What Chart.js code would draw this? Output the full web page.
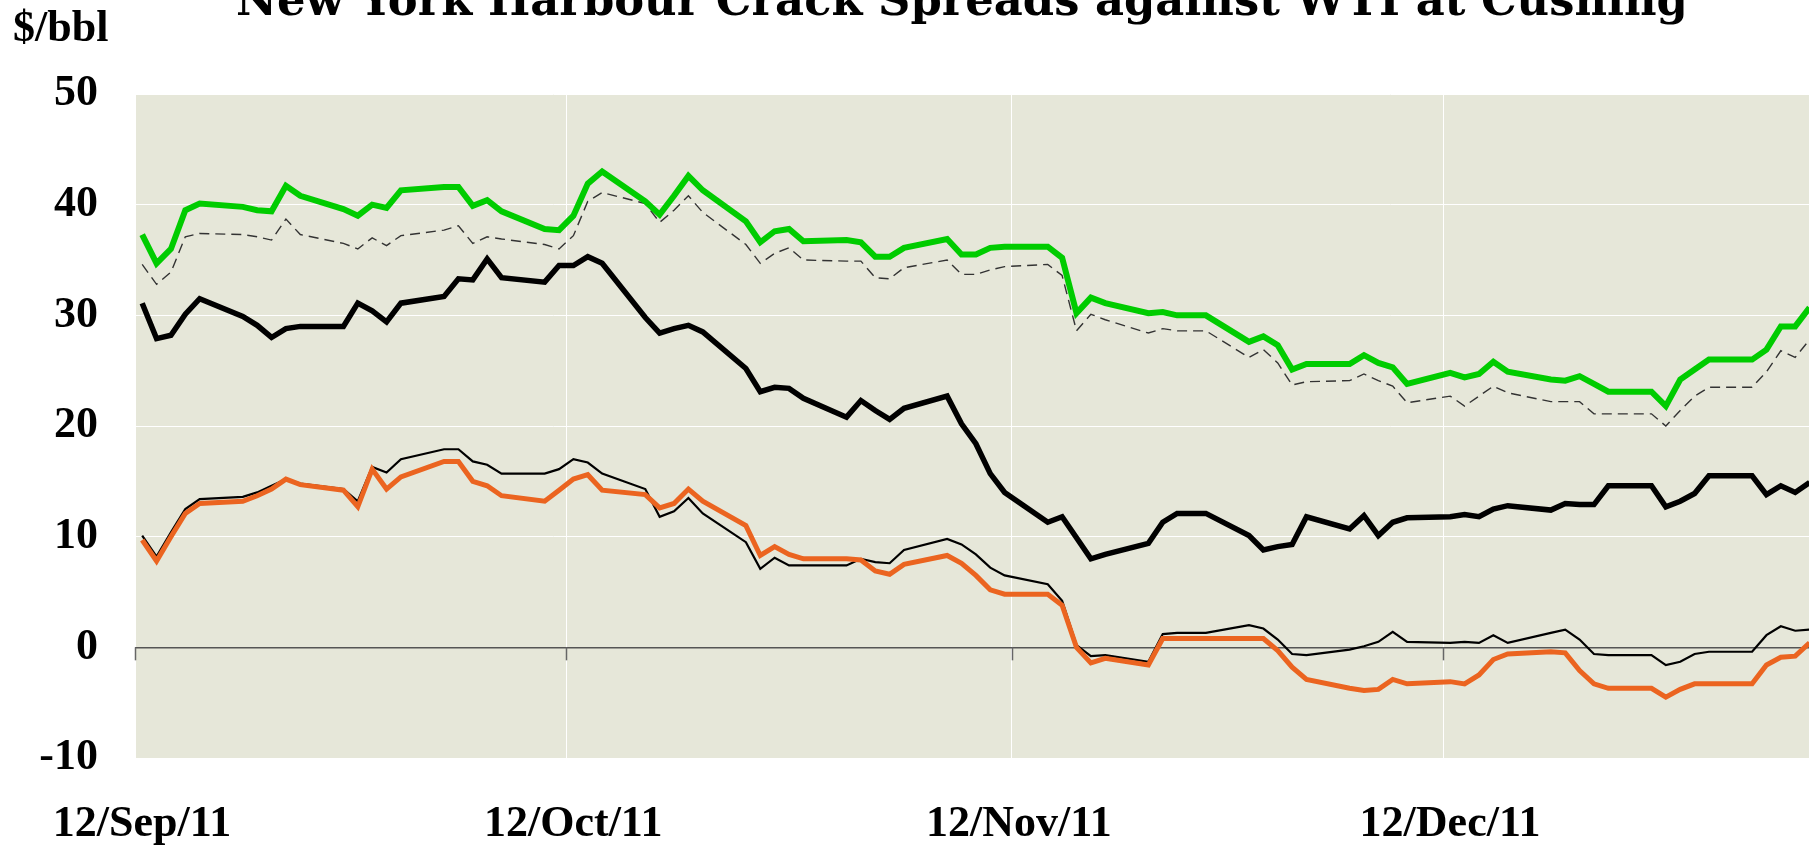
<!DOCTYPE html>
<html lang="en">
<head>
  <meta charset="UTF-8" />
  <title>New York Harbour Crack Spreads against WTI at Cushing</title>
  <script src="https://cdn.jsdelivr.net/npm/chart.js"></script>
  <style>
    html, body {
      margin: 0;
      padding: 0;
      background: #fff;
      overflow: hidden;
    }
    .wrap {
      width: 1809px;
      height: 845px;
    }
  </style>
</head>
<body>
  <div class="wrap"><canvas id="grafico"></canvas></div>

  <script>
    const titleText = "New York Harbour Crack Spreads against WTI at Cushing";
    const unitText = "$/bbl";

    // trading days shown on the chart
    const dates = [
      '2011-09-12','2011-09-13','2011-09-14','2011-09-15','2011-09-16',
      '2011-09-19','2011-09-20','2011-09-21','2011-09-22','2011-09-23',
      '2011-09-26','2011-09-27','2011-09-28','2011-09-29','2011-09-30',
      '2011-10-03','2011-10-04','2011-10-05','2011-10-06','2011-10-07',
      '2011-10-10','2011-10-11','2011-10-12','2011-10-13','2011-10-14',
      '2011-10-17','2011-10-18','2011-10-19','2011-10-20','2011-10-21',
      '2011-10-24','2011-10-25','2011-10-26','2011-10-27','2011-10-28',
      '2011-10-31','2011-11-01','2011-11-02','2011-11-03','2011-11-04',
      '2011-11-07','2011-11-08','2011-11-09','2011-11-10','2011-11-11',
      '2011-11-14','2011-11-15','2011-11-16','2011-11-17','2011-11-18',
      '2011-11-21','2011-11-22','2011-11-23','2011-11-24','2011-11-25',
      '2011-11-28','2011-11-29','2011-11-30','2011-12-01','2011-12-02',
      '2011-12-05','2011-12-06','2011-12-07','2011-12-08','2011-12-09',
      '2011-12-12','2011-12-13','2011-12-14','2011-12-15','2011-12-16',
      '2011-12-19','2011-12-20','2011-12-21','2011-12-22','2011-12-23',
      '2011-12-26','2011-12-27','2011-12-28','2011-12-29','2011-12-30',
      '2012-01-02','2012-01-03','2012-01-04','2012-01-05','2012-01-06'
    ];

    const spreadGreen = [
      37.3,34.7,36.0,39.5,40.1, 39.8,39.5,39.4,41.7,40.8, 39.6,39.0,40.0,39.7,41.3,
      41.6,41.6,39.9,40.4,39.4, 37.8,37.7,39.0,41.9,43.0, 40.3,39.1,40.8,42.6,41.3,
      38.5,36.6,37.6,37.8,36.7, 36.8,36.6,35.3,35.3,36.1, 36.9,35.5,35.5,36.1,36.2,
      36.2,35.2,30.2,31.6,31.1, 30.2,30.3,30.0,30.0,30.0, 27.6,28.1,27.3,25.1,25.6,
      25.6,26.4,25.7,25.3,23.8, 24.8,24.4,24.7,25.8,24.9, 24.2,24.1,24.5,23.8,23.1,
      23.1,21.8,24.2,25.1,26.0, 26.0,26.9,29.0,29.0,30.7
    ];

    const spreadDashed = [
      34.6,32.8,33.9,37.1,37.4, 37.3,37.1,36.8,38.7,37.3, 36.5,36.0,37.0,36.3,37.2,
      37.7,38.1,36.5,37.1,36.9, 36.4,36.0,37.2,40.3,41.1, 40.1,38.4,39.5,40.8,39.3,
      36.4,34.7,35.6,36.1,35.0, 34.9,34.9,33.4,33.3,34.3, 35.0,33.7,33.7,34.1,34.4,
      34.6,33.6,28.6,30.1,29.6, 28.4,28.8,28.6,28.6,28.6, 26.2,26.9,25.7,23.7,24.0,
      24.1,24.7,24.1,23.6,22.1, 22.7,21.8,22.7,23.6,23.0, 22.2,22.2,22.2,21.1,21.1,
      21.1,20.0,21.4,22.7,23.5, 23.5,24.9,26.8,26.2,27.8
    ];

    const spreadBlackThick = [
      31.1,27.9,28.2,30.1,31.5, 29.9,29.1,28.0,28.8,29.0, 29.0,31.1,30.4,29.4,31.1,
      31.7,33.3,33.2,35.1,33.4, 33.0,34.5,34.5,35.3,34.7, 29.8,28.4,28.8,29.1,28.5,
      25.2,23.1,23.5,23.4,22.5, 20.8,22.3,21.4,20.6,21.6, 22.7,20.2,18.4,15.7,14.0,
      11.3,11.8,9.9,8.0,8.4, 9.4,11.3,12.1,12.1,12.1, 10.1,8.8,9.1,9.3,11.8,
      10.7,11.9,10.1,11.3,11.7, 11.8,12.0,11.8,12.5,12.8, 12.4,13.0,12.9,12.9,14.6,
      14.6,12.7,13.2,13.9,15.5, 15.5,13.8,14.6,14.0,14.9
    ];

    const spreadBlackThin = [
      10.1,8.2,10.4,12.5,13.4, 13.6,14.0,14.6,15.2,14.8, 14.3,13.2,16.3,15.8,17.0,
      17.9,17.9,16.8,16.5,15.7, 15.7,16.1,17.0,16.7,15.7, 14.3,11.8,12.3,13.5,12.1,
      9.5,7.1,8.1,7.4,7.4, 7.4,8.0,7.7,7.6,8.8, 9.8,9.3,8.4,7.2,6.5,
      5.7,4.2,0.2,-0.8,-0.7, -1.3,1.2,1.3,1.3,1.3, 2.0,1.7,0.7,-0.6,-0.7,
      -0.2,0.1,0.5,1.4,0.5, 0.4,0.5,0.4,1.1,0.4, 1.3,1.6,0.7,-0.6,-0.7,
      -0.7,-1.6,-1.3,-0.6,-0.4, -0.4,1.1,1.9,1.5,1.6
    ];

    const spreadOrange = [
      9.7,7.8,10.0,12.1,13.0, 13.2,13.7,14.3,15.2,14.7, 14.2,12.7,16.1,14.3,15.4,
      16.8,16.8,15.0,14.6,13.7, 13.2,14.2,15.2,15.6,14.2, 13.8,12.6,13.0,14.3,13.2,
      11.0,8.3,9.1,8.4,8.0, 8.0,7.9,6.9,6.6,7.5, 8.3,7.6,6.5,5.2,4.8,
      4.8,3.8,0.0,-1.4,-1.0, -1.6,0.8,0.8,0.8,0.8, 0.8,0.8,-0.3,-1.8,-2.9,
      -3.7,-3.9,-3.8,-2.9,-3.3, -3.1,-3.3,-2.5,-1.1,-0.6, -0.4,-0.5,-2.1,-3.3,-3.7,
      -3.7,-4.5,-3.8,-3.3,-3.3, -3.3,-1.6,-0.9,-0.8,0.4
    ];

    const tickDates = ['2011-09-12', '2011-10-12', '2011-11-12', '2011-12-12'];
    const tickLabels = ['12/Sep/11', '12/Oct/11', '12/Nov/11', '12/Dec/11'];
    const yMin = -10, yMax = 50, yStep = 10;
    const xEnd = 116.46; // days after 12/Sep/11 at the right edge of the plot

    const start = Date.UTC(2011, 8, 12);
    const dayOf = s => (Date.parse(s) - start) / 86400000;
    // each trading day is plotted at midday
    const toPoints = vals => dates.map((d, i) => ({ x: dayOf(d) + 0.5, y: vals[i] }));
    const tickDays = tickDates.map(dayOf);

    const decor = {
      id: 'decor',
      beforeDraw(chart) {
        const { ctx, chartArea: a } = chart;
        ctx.save();
        ctx.fillStyle = '#e6e7d9';
        ctx.fillRect(a.left, a.top, a.right - a.left, a.bottom - a.top);
        ctx.restore();
      },
      beforeDatasetsDraw(chart) {
        // small tick marks hanging under the zero line
        const { ctx, scales } = chart;
        const y0 = scales.y.getPixelForValue(0);
        ctx.save();
        ctx.strokeStyle = '#666';
        ctx.lineWidth = 1.5;
        tickDays.forEach(d => {
          const x = Math.round(scales.x.getPixelForValue(d)) + 0.5;
          ctx.beginPath();
          ctx.moveTo(x, y0);
          ctx.lineTo(x, y0 + 13);
          ctx.stroke();
        });
        ctx.restore();
      },
      afterDraw(chart) {
        const { ctx } = chart;
        ctx.save();
        ctx.fillStyle = '#000';
        ctx.textBaseline = 'alphabetic';

        ctx.font = 'bold 48px "DejaVu Serif"';
        const size = 48 * 1452 / ctx.measureText(titleText).width;
        ctx.font = 'bold ' + size.toFixed(1) + 'px "DejaVu Serif"';
        ctx.textAlign = 'center';
        ctx.fillText(titleText, 962, 15);

        ctx.font = 'bold 44px "Liberation Serif"';
        ctx.textAlign = 'left';
        ctx.fillText(unitText, 13, 41);
        ctx.restore();
      }
    };

    const tickFont = { family: '"Liberation Serif"', size: 44, weight: 'bold' };

    new Chart(document.getElementById('grafico'), {
      type: 'line',
      data: {
        datasets: [
          { label: 'Green', data: toPoints(spreadGreen), borderColor: '#00cc00', borderWidth: 6 },
          { label: 'Black thick', data: toPoints(spreadBlackThick), borderColor: '#000', borderWidth: 5.5 },
          { label: 'Orange', data: toPoints(spreadOrange), borderColor: '#eb6420', borderWidth: 5 },
          { label: 'Black thin', data: toPoints(spreadBlackThin), borderColor: '#000', borderWidth: 2.2 },
          { label: 'Dashed', data: toPoints(spreadDashed), borderColor: '#333', borderWidth: 1.4, borderDash: [10, 6] }
        ]
      },
      options: {
        responsive: true,
        maintainAspectRatio: false,
        animation: false,
        devicePixelRatio: 1,
        layout: { padding: { top: 94, left: 0, right: 0, bottom: 0 } },
        elements: {
          point: { radius: 0 },
          line: { tension: 0, fill: false }
        },
        plugins: {
          legend: { display: false },
          tooltip: { enabled: false },
          title: { display: false }
        },
        scales: {
          x: {
            type: 'linear',
            min: 0,
            max: xEnd,
            afterBuildTicks: s => { s.ticks = tickDays.map(v => ({ value: v })); },
            afterFit: s => { s.height = 87; s.paddingLeft = 0; s.paddingRight = 0; },
            border: { display: false },
            grid: { color: '#fff', lineWidth: 1, drawTicks: false },
            ticks: {
              font: tickFont,
              color: '#000',
              padding: 40,
              labelOffset: 7,
              maxRotation: 0,
              autoSkip: false,
              callback: (v, i) => tickLabels[i]
            }
          },
          y: {
            min: yMin,
            max: yMax,
            afterFit: s => { s.width = 135; s.paddingTop = 0; s.paddingBottom = 0; },
            border: { display: false },
            grid: {
              drawTicks: false,
              color: c => (c.tick && c.tick.value === 0) ? '#555' : '#fff',
              lineWidth: c => (c.tick && c.tick.value === 0) ? 1.5 : 1
            },
            ticks: {
              stepSize: yStep,
              font: tickFont,
              color: '#000',
              padding: 37
            }
          }
        }
      },
      plugins: [decor]
    });
  </script>
</body>
</html>
